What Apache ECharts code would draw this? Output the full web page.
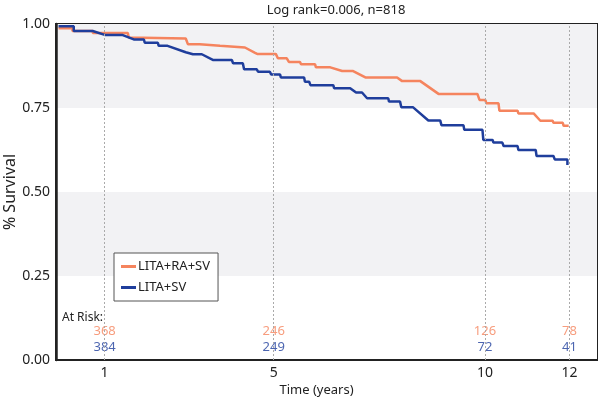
<!DOCTYPE html>
<html>
<head>
<meta charset="utf-8">
<script src="https://cdn.jsdelivr.net/npm/echarts@6/dist/echarts.min.js"></script>
<style>
  html, body { margin: 0; padding: 0; background: #fff; }
  #main { width: 600px; height: 401px; }
</style>
</head>
<body>
<div id="main"></div>
<script>
// survival curves, vertices (time in years, survival)
var raTime = [-0.09, 0.24, 0.24, 0.72, 0.72, 1.55, 1.57, 2.92, 2.97, 3.25, 3.28, 3.73, 3.75, 4.32, 4.56, 4.61, 5.05, 5.10, 5.31, 5.36, 5.62, 5.65, 5.98, 6.00, 6.34, 6.62, 6.88, 7.17, 7.92, 8.04, 8.47, 8.90, 9.82, 9.87, 10.01, 10.03, 10.32, 10.34, 10.77, 10.79, 11.15, 11.31, 11.60, 11.62, 11.84, 11.86, 11.98]
var raSurv = [0.987, 0.987, 0.979, 0.979, 0.973, 0.973, 0.960, 0.957, 0.940, 0.940, 0.935, 0.935, 0.930, 0.930, 0.914, 0.911, 0.911, 0.898, 0.898, 0.887, 0.887, 0.880, 0.880, 0.871, 0.871, 0.860, 0.860, 0.841, 0.841, 0.830, 0.830, 0.792, 0.792, 0.774, 0.774, 0.764, 0.764, 0.742, 0.742, 0.734, 0.734, 0.712, 0.712, 0.706, 0.706, 0.697, 0.697]

var svTime = [-0.09, 0.27, 0.27, 0.72, 1.02, 1.43, 1.69, 1.93, 1.95, 2.26, 2.28, 2.49, 2.92, 3.09, 3.30, 3.56, 4.01, 4.04, 4.27, 4.30, 4.60, 4.63, 4.91, 4.94, 5.15, 5.17, 5.72, 5.74, 5.84, 5.87, 6.41, 6.43, 6.81, 6.95, 7.09, 7.21, 7.71, 7.73, 7.99, 8.02, 8.30, 8.66, 8.94, 8.97, 9.49, 9.51, 9.94, 9.96, 10.18, 10.20, 10.41, 10.44, 10.77, 10.79, 11.20, 11.22, 11.62, 11.65, 11.95, 11.95]
var svSurv = [0.993, 0.993, 0.979, 0.979, 0.967, 0.967, 0.954, 0.954, 0.944, 0.944, 0.935, 0.935, 0.916, 0.910, 0.910, 0.893, 0.893, 0.883, 0.883, 0.865, 0.865, 0.858, 0.858, 0.850, 0.850, 0.841, 0.841, 0.828, 0.828, 0.818, 0.818, 0.809, 0.809, 0.796, 0.796, 0.779, 0.779, 0.769, 0.769, 0.752, 0.752, 0.713, 0.713, 0.699, 0.699, 0.685, 0.685, 0.655, 0.655, 0.647, 0.647, 0.637, 0.637, 0.625, 0.625, 0.607, 0.607, 0.597, 0.597, 0.580]

// at risk table
var riskTimes = [1, 5, 10, 12]
var raRisk = [368, 246, 126, 78]
var svRisk = [384, 249, 72, 41]

var xTicks = [1, 5, 10, 12]

var orange = '#f5845e'
var blue = '#1f3e9c'
var font = 'Noto Sans'

function zip(a, b) {
  return a.map(function (v, i) { return [v, b[i]] })
}

var chart = echarts.init(document.getElementById('main'))

var option = {
  animation: false,
  backgroundColor: '#fff',
  textStyle: { fontFamily: font },
  title: {
    text: 'Log rank=0.006, n=818',
    left: 331,
    textAlign: 'center',
    top: -1,
    textStyle: { fontSize: 13, fontWeight: 'normal', color: '#222', fontFamily: font }
  },
  grid: {
    left: 56, right: 3, top: 24, bottom: 41,
    outerBoundsMode: 'none',
    containLabel: false,
    show: true, borderColor: '#222', borderWidth: 2, backgroundColor: 'transparent'
  },
  legend: {
    orient: 'vertical',
    left: 114, top: 253,
    padding: [7, 8, 7, 7],
    itemGap: 8,
    itemWidth: 15, itemHeight: 3,
    icon: 'rect',
    borderColor: '#555', borderWidth: 1,
    backgroundColor: '#fff',
    textStyle: { fontSize: 13, color: '#222', fontFamily: font, padding: [0, 0, 0, -3] },
    data: ['LITA+RA+SV', 'LITA+SV']
  },
  xAxis: {
    type: 'value',
    min: -0.15, max: 12.65,
    name: 'Time (years)',
    nameLocation: 'middle',
    nameMoveOverlap: false,
    nameGap: 24,
    nameTextStyle: { fontSize: 13, color: '#222', fontFamily: font, padding: [0, 20, 0, 0] },
    axisLine: { show: true, onZero: false, lineStyle: { color: '#222', width: 2 } },
    axisTick: { show: false },
    splitLine: { show: false },
    axisLabel: {
      customValues: xTicks,
      fontSize: 14, color: '#222', margin: 6, fontFamily: font
    }
  },
  yAxis: {
    type: 'value',
    min: 0, max: 1, interval: 0.25,
    name: '% Survival',
    nameLocation: 'middle',
    nameMoveOverlap: false,
    nameGap: 38,
    nameTextStyle: { fontSize: 16, color: '#222', fontFamily: font },
    axisLine: { show: true, onZero: false, lineStyle: { color: '#222', width: 2.5 } },
    axisTick: { show: false },
    splitLine: { show: false },
    splitArea: { show: true, areaStyle: { color: ['#ffffff', '#f2f2f4'] } },
    axisLabel: {
      fontSize: 14, color: '#222', margin: 6, fontFamily: font,
      formatter: function (v) { return v.toFixed(2) }
    }
  },
  graphic: [{
    type: 'text', left: 62, top: 312, z: 100,
    style: { text: 'At Risk:', fontSize: 12, fill: '#222', fontFamily: font }
  }],
  series: [
    {
      name: 'guides',
      type: 'line',
      data: [],
      silent: true,
      markLine: {
        silent: true,
        symbol: ['none', 'none'],
        label: { show: false },
        lineStyle: { color: '#aaa', type: [2, 2], width: 1 },
        data: xTicks.map(function (t) { return { xAxis: t } })
      }
    },
    {
      name: 'LITA+RA+SV',
      type: 'line',
      data: zip(raTime, raSurv),
      showSymbol: false,
      color: orange,
      lineStyle: { width: 2.5, color: orange },
      z: 3
    },
    {
      name: 'LITA+SV',
      type: 'line',
      data: zip(svTime, svSurv),
      showSymbol: false,
      color: blue,
      lineStyle: { width: 2.5, color: blue },
      z: 4
    },
    {
      name: 'riskRA',
      type: 'scatter',
      symbolSize: 0,
      data: riskTimes.map(function (t, i) { return [t, 0.086, raRisk[i]] }),
      label: {
        show: true, position: 'inside', fontSize: 13, color: orange, fontFamily: font,
        formatter: function (p) { return p.value[2] }
      }
    },
    {
      name: 'riskSV',
      type: 'scatter',
      symbolSize: 0,
      data: riskTimes.map(function (t, i) { return [t, 0.039, svRisk[i]] }),
      label: {
        show: true, position: 'inside', fontSize: 13, color: blue, fontFamily: font,
        formatter: function (p) { return p.value[2] }
      }
    }
  ]
}

chart.setOption(option)
</script>
</body>
</html>
